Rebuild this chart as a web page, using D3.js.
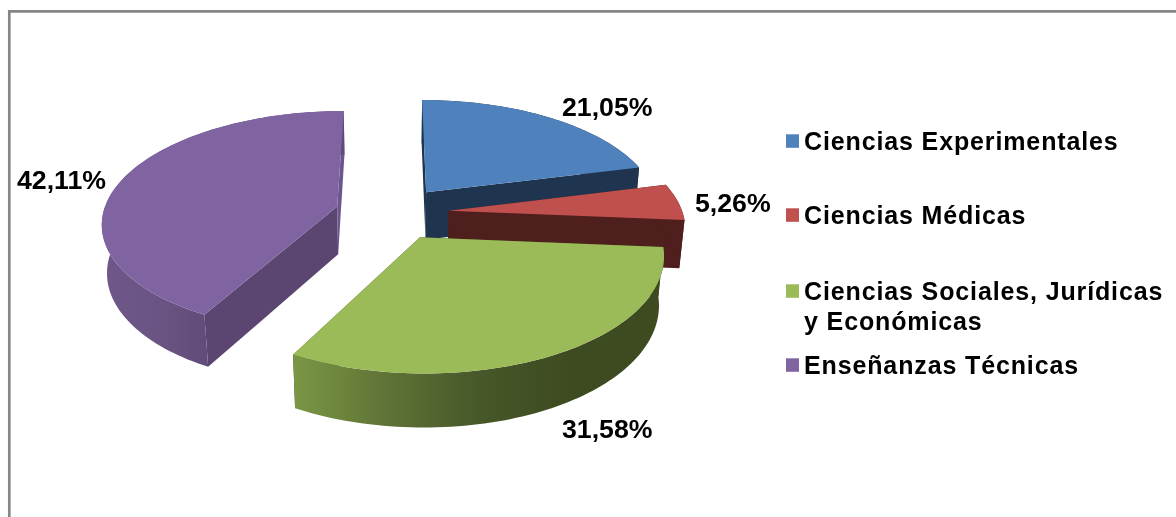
<!DOCTYPE html>
<html lang="es">
<head>
<meta charset="UTF-8" />
<title>Pie 3D</title>
<script src="https://d3js.org/d3.v7.min.js"></script>
<style>
  html, body { margin: 0; padding: 0; background: #fff; overflow: hidden; }
  /* the reference is a soft upscaled screenshot */
  svg { display: block; font-family: "Liberation Sans", Arial, sans-serif; filter: blur(0.5px); }
  .legend-text { font-size: 25px; font-weight: bold; fill: #000; letter-spacing: 0.87px; }
  .value-label { font-size: 26.7px; font-weight: bold; fill: #000; }
</style>
</head>
<body>
<svg id="chart" width="1176" height="517"></svg>
<script>
const categories = ["Ciencias Experimentales", "Ciencias Médicas", "Ciencias Sociales, Jurídicas y Económicas", "Enseñanzas Técnicas"];
const values = [21.05, 5.26, 31.58, 42.11];
const topColors = ["#4f81bd", "#c0504d", "#9bbb59", "#8064a2"];
const wallColors = ["#1f344f", "#4f1f1e", "#3f4d22", "#5b4672"];
const backWallColors = ["#1f344f", "#4f1f1e", "#3f4d22", "#6d5690"];
const greenShade = ["#7a9645", "#5f7336", "#47582a", "#3e4b20", "#3e4b20"];
const purpleShade = ["#6f5889", "#6a5483", "#604c78"];

// text spots, same order as categories
const labelSpots = [[562, 116], [695, 212], [562, 438], [17, 189]];
const legendBaselines = [150, 224, 300, 374];

// projection of the tilted disc
const vx = 392, vy = 213;   // where the pie centre lands
const R = 234, explode = 57, thick = 49;
const persp = 0.000584, tilt = 0.471, sink = 0.018;

function project(X, Z, h) {
  const s = 1 / (1 - persp * Z + sink * h);
  return [vx + X * s, vy + (tilt * Z + thick * h) * s];
}

const svg = d3.select("#chart");
const defs = svg.append("defs");

function gradient(id, x0, x1, stops) {
  const g = defs.append("linearGradient").attr("id", id)
    .attr("gradientUnits", "userSpaceOnUse")
    .attr("x1", x0).attr("x2", x1).attr("y1", 0).attr("y2", 0);
  stops.forEach((c, i) => g.append("stop")
    .attr("offset", i / (stops.length - 1)).attr("stop-color", c));
  return `url(#${id})`;
}

const color = d3.scaleOrdinal().domain(categories).range(topColors);
const wall = d3.scaleOrdinal().domain(categories).range(wallColors);
const backWall = d3.scaleOrdinal().domain(categories).range(backWallColors);
const comma = d3.formatLocale({ decimal: ",", thousands: ".", grouping: [3], currency: ["", "€"] }).format(".2f");

const arcs = d3.pie().sort(null).value(d => d.value)(
  categories.map((name, i) => ({ name, value: values[i], i }))
);
const line = d3.line();

function buildSlice(a) {
  const mid = (a.startAngle + a.endAngle) / 2;
  const ex = explode * Math.sin(mid), ez = -explode * Math.cos(mid);
  const n = Math.ceil((a.endAngle - a.startAngle) * 40);
  const rim = h => d3.range(n + 1).map(j => {
    const t = a.startAngle + (a.endAngle - a.startAngle) * j / n;
    return project(ex + R * Math.sin(t), ez - R * Math.cos(t), h);
  });
  return { apexTop: project(ex, ez, 0), apexBot: project(ex, ez, 1), rimTop: rim(0), rimBot: rim(1) };
}

const outerFill = {
  2: gradient("greenWall", 295, 660, greenShade),
  3: gradient("purpleWall", 105, 210, purpleShade)
};

// back to front
[0, 1, 3, 2].forEach(idx => {
  const a = arcs[idx], d = a.data, s = buildSlice(a);
  const g = svg.append("g").attr("class", "slice");
  const lastT = s.rimTop[s.rimTop.length - 1], lastB = s.rimBot[s.rimBot.length - 1];

  // flat cut faces
  g.append("path").attr("fill", wall(d.name))
    .attr("d", line([s.apexTop, s.rimTop[0], s.rimBot[0], s.apexBot]) + "Z");
  g.append("path").attr("fill", backWall(d.name))
    .attr("d", line([s.apexTop, lastT, lastB, s.apexBot]) + "Z");
  // curved rim
  g.append("path").attr("fill", outerFill[idx] || wall(d.name))
    .attr("d", line(s.rimTop.concat(s.rimBot.slice().reverse())) + "Z");
  // top face
  g.append("path").attr("fill", color(d.name))
    .attr("d", line([s.apexTop].concat(s.rimTop)) + "Z");
});

// value labels
svg.selectAll(".value-label").data(arcs).join("text")
  .attr("class", "value-label")
  .attr("x", d => labelSpots[d.data.i][0])
  .attr("y", d => labelSpots[d.data.i][1])
  .text(d => comma(d.data.value) + "%");

// legend
const legend = svg.selectAll(".legend-item").data(categories).join("g").attr("class", "legend-item");
legend.append("rect")
  .attr("x", 786).attr("width", 13).attr("height", 13.5)
  .attr("y", (d, i) => legendBaselines[i] - 15.7)
  .attr("fill", d => color(d));
legend.append("text").attr("class", "legend-text")
  .attr("y", (d, i) => legendBaselines[i])
  .selectAll("tspan").data(d => d.split(/ (?=y )/)).join("tspan")
  .attr("x", 804).attr("dy", (d, i) => i ? 30 : 0)
  .text(d => d);

// chart frame, cut off at the right and bottom of the crop
svg.append("path").attr("fill", "none").attr("stroke", "#868686").attr("stroke-width", 2.7)
  .attr("d", "M9.3,520V11.3H1180");
</script>
</body>
</html>
